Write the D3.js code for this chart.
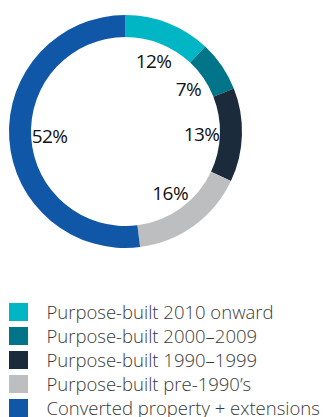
<!DOCTYPE html>
<html>
<head>
<meta charset="utf-8">
<script src="https://cdn.jsdelivr.net/npm/d3@7"></script>
<style>
  body { margin:0; background:#fff; }
  svg { display:block; }
</style>
</head>
<body>
<svg id="chart" width="328" height="417"></svg>
<script>
// data
const categories = ['Purpose-built 2010 onward', 'Purpose-built 2000\u20132009',
    'Purpose-built 1990\u20131999', 'Purpose-built pre-1990\u2019s', 'Converted property + extensions'];
const values = [12, 7, 13, 16, 52];
const colors = ['#00b6c4', '#00758a', '#1c2b3c', '#bcbec0', '#1057a8'];

const svg = d3.select('#chart');
const cx = 125.5, cy = 131.5,
      outerR = 116.5, innerR = 94.5, labelR = 76;

const pie = d3.pie().sort(null).value(d => d.v);
const arcs = pie(values.map((v, i) => ({v, i})));
const arc = d3.arc().innerRadius(innerR).outerRadius(outerR);

const g = svg.append('g').attr('transform', `translate(${cx},${cy})`);

g.selectAll('path.slice').data(arcs).enter().append('path')
    .attr('class', 'slice')
    .attr('d', arc)
    .attr('fill', d => colors[d.data.i]);

// percentage labels inside the ring
const labelArc = d3.arc().innerRadius(labelR).outerRadius(labelR);
g.selectAll('text.pct').data(arcs).enter().append('text')
    .attr('class', 'pct')
    .attr('transform', d => `translate(${labelArc.centroid(d)})`)
    .attr('text-anchor', 'middle')
    .attr('dy', '0.36em')
    .style('font-family', '"Open Sans", sans-serif')
    .style('font-size', '19px')
    .style('letter-spacing', '-0.6px')
    .style('fill', '#111')
    .text(d => d.data.v + '%');

// legend
const legend = svg.append('g').attr('transform', 'translate(9,303)');
const row = legend.selectAll('g').data(categories).enter().append('g')
    .attr('transform', (d, i) => `translate(0,${i * 24})`);
row.append('rect')
    .attr('width', 19).attr('height', 18)
    .attr('fill', (d, i) => colors[i]);
row.append('text')
    .attr('x', 37.5).attr('y', 9).attr('dy', '0.36em')
    .style('font-family', '"Open Sans", sans-serif')
    .style('font-weight', 300)
    .style('font-size', '18.5px')
    .style('fill', '#3a3a3a')
    .text(d => d);
</script>
</body>
</html>
